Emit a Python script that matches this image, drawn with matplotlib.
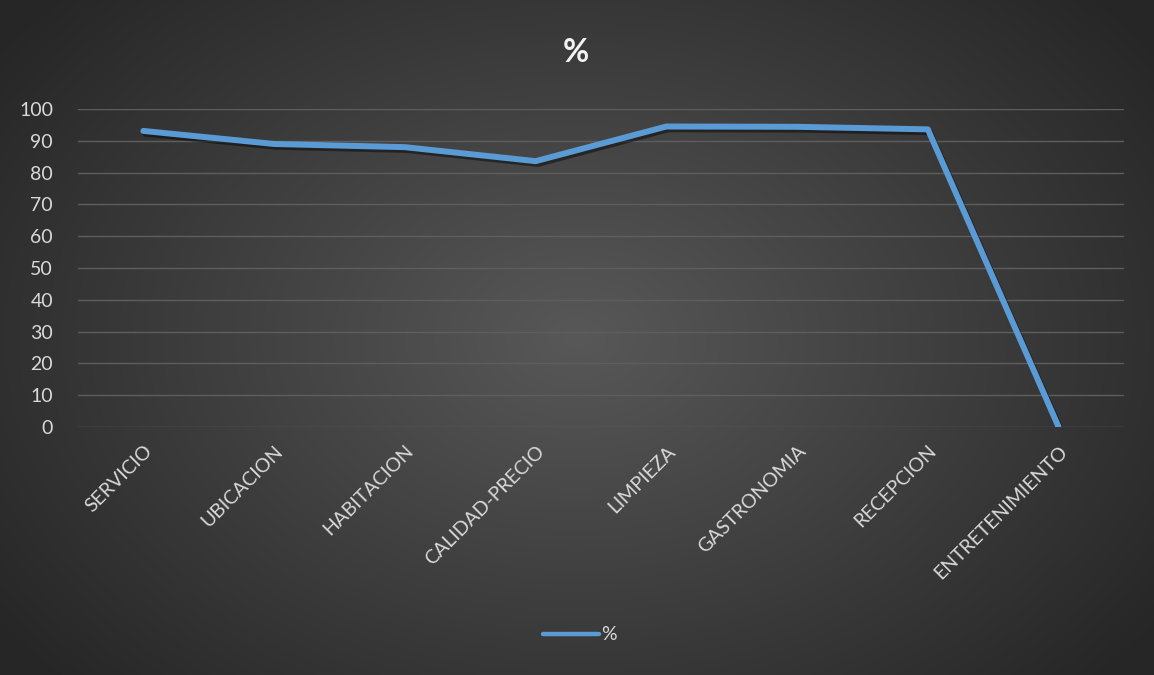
import matplotlib.pyplot as plt
import matplotlib.patheffects as pe
import numpy as np

plt.rcParams['font.family'] = ['Lato', 'DejaVu Sans']

categories = ['SERVICIO', 'UBICACION', 'HABITACION', 'CALIDAD-PRECIO',
              'LIMPIEZA', 'GASTRONOMIA', 'RECEPCION', 'ENTRETENIMIENTO']
values = [93.1, 89.0, 88.0, 83.6, 94.5, 94.4, 93.6, 0]
yticks = list(range(0, 101, 10))

W, H = 1154, 675
fig = plt.figure(figsize=(W / 100, H / 100), dpi=100)

# radial gradient background like the Excel dark style
bg = fig.add_axes([0, 0, 1, 1], zorder=-10)
yy, xx = np.mgrid[0:H, 0:W]
r = np.sqrt(((xx - W * 0.5) / (W * 0.62)) ** 2 + ((yy - H * 0.5) / (H * 0.75)) ** 2)
r = np.clip(r, 0, 1)
c_in, c_out = 0x58 / 255, 0x26 / 255
img = c_in + (c_out - c_in) * r
bg.imshow(np.dstack([img, img, img]), aspect='auto', extent=[0, 1, 0, 1])
bg.set_axis_off()

ax = fig.add_axes([78 / W, 1 - 427 / H, (1124 - 78) / W, (427 - 109) / H])
ax.patch.set_alpha(0)
x = np.arange(len(categories))
ax.plot(x, values, color='#5b9bd5', lw=4.3, solid_capstyle='round',
        solid_joinstyle='round', label='%',
        path_effects=[pe.SimpleLineShadow(offset=(1.5, -2), shadow_color='black', alpha=0.45),
                      pe.Normal()])

ax.set_xlim(-0.5, len(categories) - 0.5)
ax.set_ylim(0, 100)
ax.set_yticks(yticks)
ax.yaxis.grid(True, color='#5e5e5e', lw=1)
ax.set_axisbelow(True)
for s in ax.spines.values():
    s.set_visible(False)
ax.tick_params(length=0, colors='#d9d9d9', labelsize=14)
ax.tick_params(axis='y', pad=18)
ax.set_xticks(x)
ax.set_xticklabels(categories, rotation=45, ha='right', va='top',
                   rotation_mode='anchor', fontsize=14)
ax.tick_params(axis='x', pad=11)

fig.text(576 / W, 1 - 52 / H, '%', ha='center', va='center', fontsize=23,
         fontweight='bold', color='#f2f2f2')

leg = ax.legend(loc='center', bbox_to_anchor=((580 - 78) / (1124 - 78), (427 - 635) / (427 - 109)),
                frameon=False, fontsize=14, handlelength=2.9, handletextpad=0.1)
for t in leg.get_texts():
    t.set_color('#d9d9d9')
for l in leg.get_lines():
    l.set_linewidth(3.2)
    l.set_path_effects([])

fig.savefig('out.png', dpi=100)
